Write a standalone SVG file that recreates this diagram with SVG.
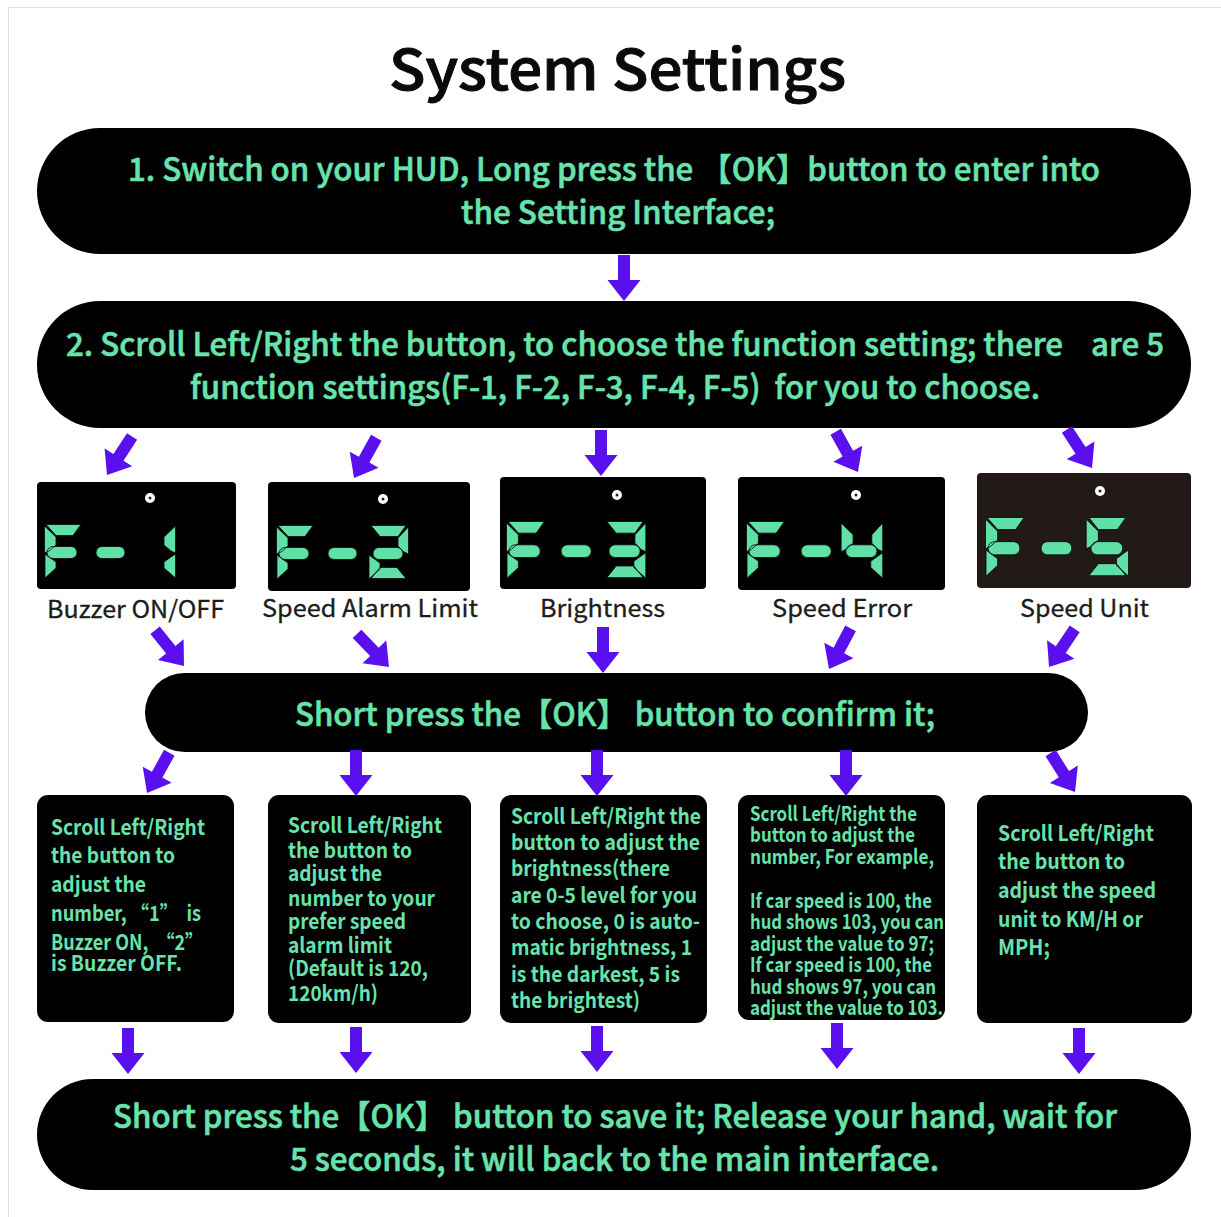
<svg xmlns="http://www.w3.org/2000/svg" width="1221" height="1217" viewBox="0 0 1221 1217">
<style>
text{font-family:"Noto Sans CJK SC","Noto Sans",sans-serif;}
.title{font-size:56px;font-weight:500;fill:#0a0a0a;stroke:#0a0a0a;stroke-width:1;}
.big{font-size:32px;font-weight:500;fill:#68e3ab;stroke:#68e3ab;stroke-width:.6;}
.lab{font-size:24px;font-weight:400;fill:#1c1c1c;stroke:#1c1c1c;stroke-width:.3;}
.sm{font-size:21px;font-weight:700;fill:#68e3ab;}
.xs{font-weight:700;font-size:20px;fill:#68e3ab;}
.box{fill:#000;}
.seg{fill:#5fe0a6;stroke:#0a0a0a;stroke-width:.8;}
.arrow{fill:#5a10ee;}
</style>
<defs>
<path id="arr" d="M-6 -46H6V-21H16.500L0 0L-16.500 -21H-6Z"/>
<path id="dF" d="M1 -.5H36L28 10.500H11ZM-.5 1L11 12V20L4 26L-.5 28ZM0 29L4 32L11 37V43L0 53ZM8 21.500H26a6 6 0 0 1 0 12H8a6 6 0 0 1 0-12Z"/>
<path id="d1" d="M39.500 1L28 12V20L35 26L39.500 28ZM39.500 29L35 32L28 37V43L39.500 53Z"/>
<path id="d2" d="M2 -.5H37L29 10.500H11ZM39.500 1L29 12V20L35 26L39.500 28ZM0 29L4 32L11 37V43L0 53ZM11 41.500H28L37 52.500H2ZM10 21.500H28a6 6 0 0 1 0 12H10a6 6 0 0 1 0-12Z"/>
<path id="d3" d="M2 -.5H37L29 10.500H11ZM39.500 1L29 12V20L35 26L39.500 28ZM39.500 29L35 32L28 37V43L39.500 53ZM11 41.500H28L37 52.500H2ZM10 21.500H28a6 6 0 0 1 0 12H10a6 6 0 0 1 0-12Z"/>
<path id="d4" d="M-.5 1L11 12V20L4 26L-.5 28ZM39.500 1L29 12V20L35 26L39.500 28ZM39.500 29L35 32L28 37V43L39.500 53ZM10 21.500H28a6 6 0 0 1 0 12H10a6 6 0 0 1 0-12Z"/>
<path id="d5" d="M2 -.5H37L29 10.500H11ZM-.5 1L11 12V20L4 26L-.5 28ZM39.500 29L35 32L28 37V43L39.500 53ZM11 41.500H28L37 52.500H2ZM10 21.500H28a6 6 0 0 1 0 12H10a6 6 0 0 1 0-12Z"/>
<rect id="dash" x="0" y="21.500" width="29" height="12" rx="6"/>
<g id="dot"><circle r="5" fill="#fff"/><circle r="1.500" fill="#222"/></g>
</defs>
<rect x="0" y="0" width="1221" height="1217" fill="#fff"/>
<path d="M1221 7.500H8.500V1217" fill="none" stroke="#dedede"/>
<text class="title" x="389" y="90" textLength="457" lengthAdjust="spacingAndGlyphs">System Settings</text>

<g id="step1"><rect class="box" x="37" y="128" width="1154" height="126" rx="63"/>
<text class="big" x="128" y="181" textLength="972" lengthAdjust="spacingAndGlyphs">1. Switch on your HUD, Long press the 【OK】button to enter into</text>
<text class="big" x="461" y="224" textLength="314" lengthAdjust="spacingAndGlyphs">the Setting Interface;</text></g>

<g id="step2"><rect class="box" x="37" y="301" width="1154" height="127" rx="63"/>
<text class="big" x="66" y="356" textLength="1098" lengthAdjust="spacingAndGlyphs">2. Scroll Left/Right the button, to choose the function setting; there&#160;&#160;&#160;&#160;are 5</text>
<text class="big" x="190" y="399" textLength="850" lengthAdjust="spacingAndGlyphs">function settings(F-1, F-2, F-3, F-4, F-5)&#160;&#160;for you to choose.</text></g>

<g id="f1"><rect class="box" x="37" y="482" width="199" height="107" rx="4"/>
<g class="seg" transform="translate(45 525)"><use href="#dF"/><use href="#dash" x="51"/><use href="#d1" x="91"/></g>
<use href="#dot" x="150" y="498"/>
<text class="lab" x="47" y="618" textLength="177" lengthAdjust="spacingAndGlyphs">Buzzer ON/OFF</text></g>

<g id="f2"><rect class="box" x="268" y="482" width="202" height="109" rx="4"/>
<g class="seg" transform="translate(277 526)"><use href="#dF"/><use href="#dash" x="51"/><use href="#d2" x="92"/></g>
<use href="#dot" x="383" y="499"/>
<text class="lab" x="262" y="617" textLength="216" lengthAdjust="spacingAndGlyphs">Speed Alarm Limit</text></g>

<g id="f3"><rect class="box" x="500" y="477" width="206" height="112" rx="4"/>
<g class="seg" transform="translate(507 522) scale(1.04 1.06)"><use href="#dF"/><use href="#dash" x="52"/><use href="#d3" x="94"/></g>
<use href="#dot" x="617" y="495"/>
<text class="lab" x="540" y="617" textLength="125" lengthAdjust="spacingAndGlyphs">Brightness</text></g>

<g id="f4"><rect class="box" x="738" y="477" width="207" height="113" rx="4"/>
<g class="seg" transform="translate(747 522) scale(1.04 1.06)"><use href="#dF"/><use href="#dash" x="52"/><use href="#d4" x="91"/></g>
<use href="#dot" x="856" y="495"/>
<text class="lab" x="772" y="617" textLength="140" lengthAdjust="spacingAndGlyphs">Speed Error</text></g>

<g id="f5"><rect x="977" y="473" width="214" height="115" rx="4" fill="#211a16"/>
<g class="seg" transform="translate(986 518) scale(1.06 1.1)"><use href="#dF"/><use href="#dash" x="52"/><use href="#d5" x="95"/></g>
<use href="#dot" x="1100" y="491"/>
<text class="lab" x="1020" y="617" textLength="129" lengthAdjust="spacingAndGlyphs">Speed Unit</text></g>

<g id="confirm"><rect class="box" x="145" y="673" width="943" height="79" rx="39.500"/>
<text class="big" x="295" y="726" textLength="640" lengthAdjust="spacingAndGlyphs">Short press the【OK】 button to confirm it;</text></g>

<g id="t1"><rect class="box" x="37" y="795" width="197" height="227" rx="11"/>
<text class="sm" x="51" y="835" textLength="154" lengthAdjust="spacingAndGlyphs">Scroll Left/Right</text>
<text class="sm" x="51" y="863" textLength="124" lengthAdjust="spacingAndGlyphs">the button to</text>
<text class="sm" x="51" y="892" textLength="95" lengthAdjust="spacingAndGlyphs">adjust the</text>
<text class="sm" x="51" y="921" textLength="150" lengthAdjust="spacingAndGlyphs">number, “1”&#160;&#160;is</text>
<text class="sm" x="51" y="950" textLength="152" lengthAdjust="spacingAndGlyphs">Buzzer ON,&#160;&#160;“2”</text>
<text class="sm" x="51" y="971" textLength="131" lengthAdjust="spacingAndGlyphs">is Buzzer OFF.</text></g>

<g id="t2"><rect class="box" x="268" y="795" width="203" height="228" rx="11"/>
<text class="sm" x="288" y="833" textLength="154" lengthAdjust="spacingAndGlyphs">Scroll Left/Right</text>
<text class="sm" x="288" y="858" textLength="124" lengthAdjust="spacingAndGlyphs">the button to</text>
<text class="sm" x="288" y="881" textLength="94" lengthAdjust="spacingAndGlyphs">adjust the</text>
<text class="sm" x="288" y="906" textLength="147" lengthAdjust="spacingAndGlyphs">number to your</text>
<text class="sm" x="288" y="929" textLength="118" lengthAdjust="spacingAndGlyphs">prefer speed</text>
<text class="sm" x="288" y="953" textLength="104" lengthAdjust="spacingAndGlyphs">alarm limit</text>
<text class="sm" x="288" y="976" textLength="140" lengthAdjust="spacingAndGlyphs">(Default is 120,</text>
<text class="sm" x="288" y="1001" textLength="90" lengthAdjust="spacingAndGlyphs">120km/h)</text></g>

<g id="t3"><rect class="box" x="500" y="795" width="207" height="228" rx="11"/>
<text class="sm" x="511" y="824" textLength="190" lengthAdjust="spacingAndGlyphs">Scroll Left/Right the</text>
<text class="sm" x="511" y="850" textLength="189" lengthAdjust="spacingAndGlyphs">button to adjust the</text>
<text class="sm" x="511" y="876" textLength="159" lengthAdjust="spacingAndGlyphs">brightness(there</text>
<text class="sm" x="511" y="903" textLength="186" lengthAdjust="spacingAndGlyphs">are 0-5 level for you</text>
<text class="sm" x="511" y="929" textLength="189" lengthAdjust="spacingAndGlyphs">to choose, 0 is auto-</text>
<text class="sm" x="511" y="955" textLength="181" lengthAdjust="spacingAndGlyphs">matic brightness, 1</text>
<text class="sm" x="511" y="982" textLength="169" lengthAdjust="spacingAndGlyphs">is the darkest, 5 is</text>
<text class="sm" x="511" y="1008" textLength="129" lengthAdjust="spacingAndGlyphs">the brightest)</text></g>

<g id="t4"><rect class="box" x="738" y="795" width="207" height="225" rx="11"/>
<text class="xs" x="750" y="821" textLength="167" lengthAdjust="spacingAndGlyphs">Scroll Left/Right the</text>
<text class="xs" x="750" y="842" textLength="165" lengthAdjust="spacingAndGlyphs">button to adjust the</text>
<text class="xs" x="750" y="864" textLength="184" lengthAdjust="spacingAndGlyphs">number, For example,</text>
<text class="xs" x="750" y="908" textLength="182" lengthAdjust="spacingAndGlyphs">If car speed is 100, the</text>
<text class="xs" x="750" y="929" textLength="194" lengthAdjust="spacingAndGlyphs">hud shows 103, you can</text>
<text class="xs" x="750" y="951" textLength="184" lengthAdjust="spacingAndGlyphs">adjust the value to 97;</text>
<text class="xs" x="750" y="972" textLength="182" lengthAdjust="spacingAndGlyphs">If car speed is 100, the</text>
<text class="xs" x="750" y="994" textLength="186" lengthAdjust="spacingAndGlyphs">hud shows 97, you can</text>
<text class="xs" x="750" y="1015" textLength="193" lengthAdjust="spacingAndGlyphs">adjust the value to 103.</text></g>

<g id="t5"><rect class="box" x="977" y="795" width="215" height="228" rx="11"/>
<text class="sm" x="998" y="841" textLength="156" lengthAdjust="spacingAndGlyphs">Scroll Left/Right</text>
<text class="sm" x="998" y="869" textLength="127" lengthAdjust="spacingAndGlyphs">the button to</text>
<text class="sm" x="998" y="898" textLength="158" lengthAdjust="spacingAndGlyphs">adjust the speed</text>
<text class="sm" x="998" y="927" textLength="145" lengthAdjust="spacingAndGlyphs">unit to KM/H or</text>
<text class="sm" x="998" y="955" textLength="52" lengthAdjust="spacingAndGlyphs">MPH;</text></g>

<g id="save"><rect class="box" x="37" y="1079" width="1154" height="111" rx="55.500"/>
<text class="big" x="113" y="1128" textLength="1004" lengthAdjust="spacingAndGlyphs">Short press the【OK】 button to save it; Release your hand, wait for</text>
<text class="big" x="290" y="1171" textLength="649" lengthAdjust="spacingAndGlyphs">5 seconds, it will back to the main interface.</text></g>

<g id="connectors" class="arrow">
<use href="#arr" transform="translate(624 301)"/>
<use href="#arr" transform="translate(107 475) rotate(33)"/>
<use href="#arr" transform="translate(354 478) rotate(29)"/>
<use href="#arr" transform="translate(601 476)"/>
<use href="#arr" transform="translate(858 472) rotate(-29)"/>
<use href="#arr" transform="translate(1092 468) rotate(-33)"/>
<use href="#arr" transform="translate(184 666) rotate(-39)"/>
<use href="#arr" transform="translate(389 667) rotate(-44)"/>
<use href="#arr" transform="translate(603 673)"/>
<use href="#arr" transform="translate(829 669) rotate(28)"/>
<use href="#arr" transform="translate(1049 667) rotate(34)"/>
<use href="#arr" transform="translate(147 793) rotate(29)"/>
<use href="#arr" transform="translate(356 796)"/>
<use href="#arr" transform="translate(597 796)"/>
<use href="#arr" transform="translate(846 796)"/>
<use href="#arr" transform="translate(1075 792) rotate(-32)"/>
<use href="#arr" transform="translate(128 1074)"/>
<use href="#arr" transform="translate(356 1073)"/>
<use href="#arr" transform="translate(597 1072)"/>
<use href="#arr" transform="translate(837 1069)"/>
<use href="#arr" transform="translate(1079 1074)"/>
</g>
</svg>
